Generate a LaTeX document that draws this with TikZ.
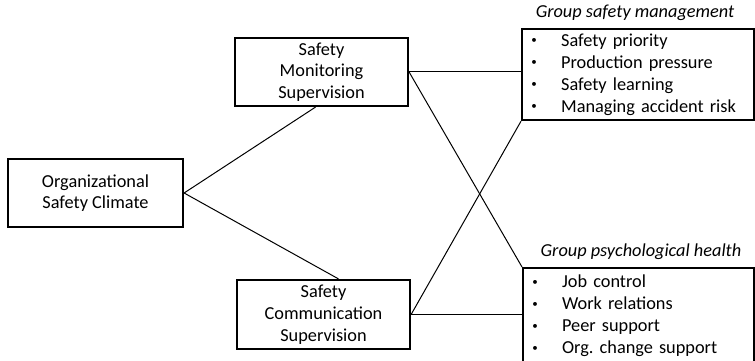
\documentclass[tikz,border=0pt]{standalone}
\usepackage{fontspec}
\setmainfont{Carlito}
\begin{document}
\frenchspacing
\begin{tikzpicture}[x=1pt,y=-1pt,
  box/.style={draw, line width=2.2pt, minimum width=173pt, minimum height=68pt,
    align=center, inner sep=0pt, font=\fontsize{18.3}{21.7}\selectfont},
  listbox/.style={draw, line width=2.2pt, anchor=north west, inner xsep=12pt,
    inner ysep=0pt, text width=208pt, align=left,
    font=\fontsize{18.3}{22}\selectfont},
  heading/.style={inner sep=0pt, font=\fontsize{18.3}{22}\selectfont\itshape},
  link/.style={line width=1pt}]
\useasboundingbox (0,0) rectangle (755,361);

% climate and the two supervision practices
\node[box, minimum width=175pt] (osc) at (95.5,193) {Organizational\\Safety Climate};
\node[box] (sms) at (321.5,72) {Safety\\Monitoring\\Supervision};
\node[box, minimum height=69pt] (scs) at (323.5,314.5) {Safety\\Communication\\Supervision};

% outcome groups
\newcommand{\itm}[1]{\makebox[0pt]{\raisebox{2.6pt}{\fontsize{11}{11}\selectfont\textbullet}}\hspace{27pt}#1}
\node[listbox, minimum height=91pt] (gsm) at (521,28)
  {\itm{Safety priority}\\\itm{Production pressure}\\\itm{Safety learning}\\\itm{Managing accident risk}};
\node[listbox, text width=207pt, minimum height=96pt] (gph) at (522,267)
  {\itm{Job control}\\\itm{Work relations}\\\itm{Peer support}\\\itm{Org. change support}};
\node[heading] (gsmt) at (635,13) {Group safety management};
\node[heading] (gpht) at (641,252) {Group psychological health};

% paths
\draw[link] (osc.east) -- ([xshift=-6pt]sms.south);
\draw[link] (osc.east) -- ([xshift=15pt]scs.north);
\draw[link] (sms.east) -- (sms.east -| gsm.west);
\draw[link] (sms.east) -- (gph.north west);
\draw[link] (scs.east) -- (gsm.south west);
\draw[link] (scs.east) -- (scs.east -| gph.west);
\end{tikzpicture}
\end{document}
